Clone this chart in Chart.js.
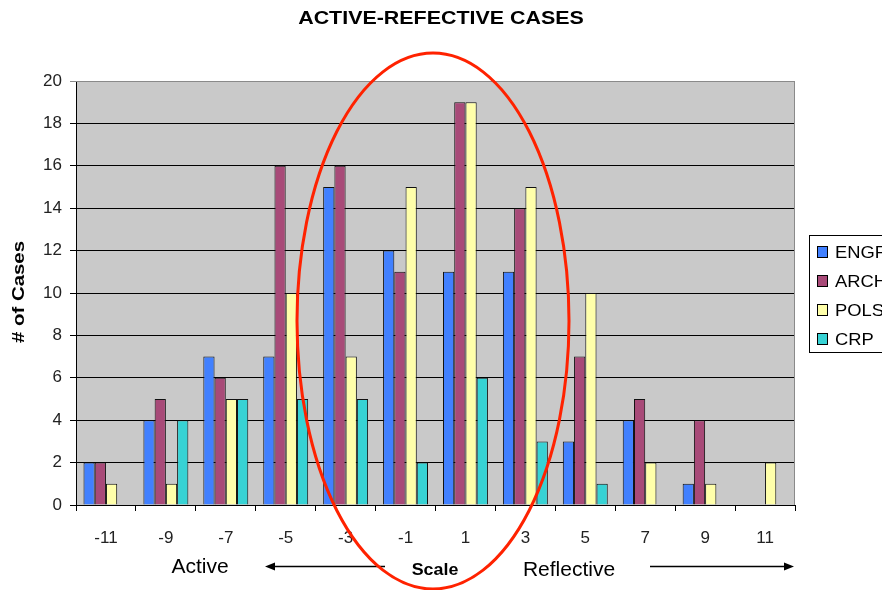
<!DOCTYPE html>
<html lang="en">
<head>
<meta charset="UTF-8" />
<title>Active-Refective Cases</title>
<style>
  html, body { margin: 0; padding: 0; background: #fff; }
  #wrap { width: 882px; height: 590px; position: relative; }
</style>
</head>
<body>
<div id="wrap"><canvas id="casesChart"></canvas></div>
<script src="https://cdn.jsdelivr.net/npm/chart.js"></script>
<script>
  // scale points on the active / reflective axis
  const scalePoints = ['-11', '-9', '-7', '-5', '-3', '-1', '1', '3', '5', '7', '9', '11'];

  // number of cases per programme
  const engr = [2, 4, 7, 7, 15, 12, 11, 11, 3, 4, 1, 0];
  const arch = [2, 5, 6, 16, 16, 11, 19, 14, 7, 5, 4, 0];
  const pols = [1, 1, 5, 10, 7, 15, 19, 15, 10, 2, 1, 2];
  const crp  = [0, 4, 5, 5, 5, 2, 6, 3, 1, 0, 0, 0];

  const yTicks = [0, 2, 4, 6, 8, 10, 12, 14, 16, 18, 20];

  const FONT = 'Arial, "Liberation Sans", sans-serif';

  const plotBg = {
    id: 'plotBg',
    beforeDraw(chart) {
      const { ctx, chartArea: a } = chart;
      ctx.save();
      ctx.fillStyle = '#c9c9c9';
      ctx.fillRect(a.left, a.top, a.right - a.left, a.bottom - a.top);
      ctx.restore();
    },
    afterDatasetsDraw(chart) {
      const { ctx, chartArea: a } = chart;
      ctx.save();
      ctx.strokeStyle = '#8a8a8a';
      ctx.lineWidth = 1;
      ctx.beginPath();
      ctx.moveTo(a.left, a.top + 0.5);
      ctx.lineTo(a.right - 0.5, a.top + 0.5);
      ctx.lineTo(a.right - 0.5, a.bottom);
      ctx.stroke();
      ctx.restore();
    }
  };

  function arrow(ctx, x1, x2, y) {
    const dir = x2 > x1 ? 1 : -1;
    ctx.beginPath();
    ctx.moveTo(x1, y);
    ctx.lineTo(x2 - dir * 8, y);
    ctx.stroke();
    ctx.beginPath();
    ctx.moveTo(x2, y);
    ctx.lineTo(x2 - dir * 10, y - 4);
    ctx.lineTo(x2 - dir * 10, y + 4);
    ctx.closePath();
    ctx.fill();
  }

  // text drawn a bit wider than plain Arial, like the original
  function wideText(ctx, text, x, y, sx, angle) {
    ctx.save();
    ctx.translate(x, y);
    if (angle) ctx.rotate(angle);
    ctx.scale(sx, 1);
    ctx.fillText(text, 0, 0);
    ctx.restore();
  }

  const extras = {
    id: 'extras',
    afterDraw(chart) {
      const { ctx } = chart;
      ctx.save();

      // title
      ctx.fillStyle = '#000';
      ctx.textAlign = 'center';
      ctx.textBaseline = 'middle';
      ctx.font = 'bold 18px ' + FONT;
      wideText(ctx, 'ACTIVE-REFECTIVE CASES', 441, 19, 1.19);

      // y axis title
      ctx.font = 'bold 17px ' + FONT;
      wideText(ctx, '# of Cases', 19, 292, 1.2, -Math.PI / 2);

      // scale captions and arrows
      ctx.font = '21px ' + FONT;
      ctx.fillText('Active', 200, 567);
      ctx.fillText('Reflective', 569, 570);
      ctx.font = 'bold 17px ' + FONT;
      wideText(ctx, 'Scale', 435, 570, 1.05);
      ctx.strokeStyle = '#000';
      ctx.lineWidth = 1.6;
      arrow(ctx, 385, 265, 566.5);
      arrow(ctx, 650, 794, 566.5);

      // legend
      ctx.fillStyle = '#fff';
      ctx.fillRect(809.5, 235.5, 90, 117);
      ctx.strokeStyle = '#000';
      ctx.lineWidth = 1;
      ctx.strokeRect(809.5, 235.5, 90, 117);
      ctx.textAlign = 'left';
      ctx.font = '17px ' + FONT;
      chart.data.datasets.forEach((ds, i) => {
        const y = 252 + i * 29;
        ctx.fillStyle = ds.backgroundColor;
        ctx.fillRect(817.5, y - 5.5, 10, 11);
        ctx.strokeStyle = '#000';
        ctx.strokeRect(817.5, y - 5.5, 10, 11);
        ctx.fillStyle = '#000';
        wideText(ctx, ds.label, 835, y + 1, 1.08);
      });

      // red circle around the middle of the scale
      ctx.strokeStyle = '#ff2200';
      ctx.lineWidth = 3;
      ctx.beginPath();
      ctx.ellipse(433, 321, 136, 268, 0, 0, Math.PI * 2);
      ctx.stroke();

      ctx.restore();
    }
  };

  const ctx = document.getElementById('casesChart').getContext('2d');
  const casesChart = new Chart(ctx, {
    type: 'bar',
    data: {
      labels: scalePoints,
      datasets: [
        { label: 'ENGR', data: engr, backgroundColor: '#4180ff' },
        { label: 'ARCH', data: arch, backgroundColor: '#a84a78' },
        { label: 'POLS', data: pols, backgroundColor: '#ffffaa' },
        { label: 'CRP', data: crp, backgroundColor: '#37d2d4' }
      ].map(d => Object.assign(d, { borderColor: '#111', borderWidth: 1, categoryPercentage: 0.75, barPercentage: 1.0 }))
    },
    options: {
      responsive: true,
      maintainAspectRatio: false,
      animation: false,
      layout: { padding: { top: 81, right: 87, left: 0, bottom: 0 } },
      plugins: {
        legend: { display: false },
        title: { display: false },
        tooltip: { enabled: false }
      },
      scales: {
        x: {
          grid: { drawOnChartArea: false, drawTicks: true, tickLength: 6, color: '#000', offset: true },
          border: { color: '#000', width: 1 },
          ticks: { color: '#222', font: { family: FONT, size: 17 }, padding: 17, maxRotation: 0 },
          afterFit(scale) { scale.height = 85; }
        },
        y: {
          min: 0,
          max: 20,
          afterBuildTicks(scale) { scale.ticks = yTicks.map(v => ({ value: v })); },
          grid: {
            color: c => (c.tick && c.tick.value === 20 ? '#8a8a8a' : '#000'),
            tickLength: 6,
            lineWidth: 1
          },
          border: { color: '#000', width: 1 },
          ticks: { color: '#222', font: { family: FONT, size: 17 }, padding: 8 },
          afterFit(scale) { scale.width = 76; }
        }
      }
    },
    plugins: [plotBg, extras]
  });
</script>
</body>
</html>
